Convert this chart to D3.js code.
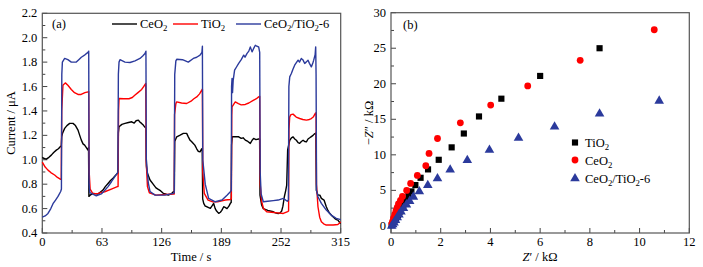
<!DOCTYPE html>
<html>
<head>
<meta charset="utf-8">
<script src="https://cdn.jsdelivr.net/npm/d3@7"></script>
<style>
  body { margin: 0; background: #fff; }
  svg { display: block; font-family: "Liberation Serif", "Times New Roman", Times, serif; }
</style>
</head>
<body>
<script>
// ---- panel (a): photocurrent vs time, [t (s), I (uA)]
const ceo2Current = [[0,1.02],[2,1.01],[4.2,1.005],[7,1.02],[9.5,1.038],[12,1.06],[14.8,1.079],[17,1.09],[19.4,1.11],[20,1.11],[20.5,1.19],[21.5,1.22],[23.6,1.257],[26,1.28],[28.9,1.298],[32.4,1.298],[35,1.28],[37.7,1.243],[39.5,1.2],[41.2,1.161],[43,1.13],[44.7,1.12],[46.5,1.1],[48.2,1.079],[48.8,1.1],[49.2,0.7],[50.5,0.71],[53.5,0.725],[58.8,0.72],[64,0.752],[66.5,0.78],[69.4,0.806],[72,0.83],[74.6,0.848],[77,0.87],[79.2,0.888],[79.8,0.89],[80.3,1.22],[81,1.27],[84,1.29],[87.3,1.298],[91,1.305],[94.4,1.311],[97,1.3],[99,1.32],[101.4,1.325],[103,1.31],[104.5,1.3],[106.6,1.284],[108,1.27],[109.5,1.257],[109.9,0.95],[110.5,0.9],[113.7,0.834],[117.2,0.798],[120,0.77],[122.5,0.757],[125,0.745],[127.7,0.725],[130,0.72],[133,0.711],[136,0.72],[138.3,0.738],[139.4,0.74],[139.8,1.15],[141.9,1.188],[145,1.2],[148.9,1.216],[152.4,1.216],[154,1.19],[155.9,1.161],[157.5,1.15],[159.4,1.134],[161,1.12],[163,1.09],[164.5,1.07],[166.5,1.065],[168.2,1.09],[168.8,1.08],[169.3,0.68],[170.4,0.643],[172,0.62],[173.9,0.615],[177.4,0.602],[179,0.62],[180.9,0.643],[182.5,0.6],[184,0.58],[186.2,0.561],[188,0.57],[189.5,0.585],[191.5,0.615],[193,0.61],[195,0.6],[197,0.62],[198.5,0.643],[199.4,0.65],[199.8,1.12],[200.5,1.188],[204,1.19],[207.3,1.188],[210,1.175],[212,1.18],[214.3,1.161],[217,1.15],[219.6,1.134],[221.5,1.16],[223.1,1.175],[225.5,1.165],[228.4,1.17],[229.4,1.17],[229.8,0.71],[231.5,0.63],[233.3,0.6],[238,0.585],[243.9,0.574],[246,0.565],[249,0.56],[251,0.565],[252.7,0.58],[254,0.62],[255.5,0.697],[257,0.75],[258,0.793],[259,1.08],[261.2,1.16],[263,1.18],[264.7,1.188],[266.5,1.17],[268.2,1.16],[270,1.14],[271.7,1.134],[273.5,1.15],[275.3,1.16],[277,1.15],[278.8,1.147],[280.5,1.17],[282.3,1.18],[284,1.19],[285.8,1.2],[287,1.21],[288.2,1.216],[288.8,1.22],[289.3,0.75],[291,0.71],[293,0.71],[294.6,0.684],[297.4,0.67],[299.8,0.615],[301.5,0.585],[303.3,0.561],[306,0.54],[308.6,0.52],[310.5,0.51],[312.1,0.506],[314.5,0.48],[315,0.48]];

const tio2Current = [[0,0.98],[3,0.94],[6,0.915],[9,0.895],[13,0.875],[16,0.855],[19.4,0.84],[20,0.84],[20.5,1.4],[21.8,1.61],[24.3,1.63],[27,1.61],[30.6,1.576],[34,1.55],[37.7,1.535],[41,1.535],[45,1.55],[48.2,1.556],[49,1.56],[49.5,0.9],[50.5,0.76],[53.5,0.72],[58.8,0.725],[65.9,0.738],[72.9,0.76],[79.2,0.78],[80,0.78],[80.5,1.4],[81,1.502],[86,1.5],[91.5,1.5],[95,1.51],[97.9,1.53],[101,1.55],[104.9,1.576],[107,1.6],[109.2,1.625],[109.6,1.0],[111,0.78],[113,0.73],[120,0.71],[130,0.715],[138.5,0.72],[139.3,0.72],[139.6,1.37],[141,1.46],[141.9,1.474],[147,1.465],[152.4,1.461],[157,1.48],[160,1.5],[163,1.515],[166,1.54],[168.3,1.57],[169,1.58],[169.4,0.9],[171,0.725],[175,0.67],[180,0.655],[185,0.655],[193.2,0.67],[198.5,0.675],[199.6,0.68],[200,1.36],[200.3,1.434],[203.7,1.474],[207,1.46],[210,1.45],[214.3,1.453],[218,1.465],[223.1,1.488],[226,1.5],[228.4,1.515],[229.5,1.52],[230,0.8],[231.5,0.66],[233.5,0.6],[236.9,0.574],[242,0.57],[248,0.565],[254.4,0.56],[259,0.575],[260,0.58],[260.4,1.25],[261.2,1.352],[262.5,1.37],[264.7,1.374],[268,1.35],[271.7,1.338],[275,1.33],[278.8,1.325],[282,1.33],[284,1.338],[286,1.35],[288.2,1.38],[289,1.385],[289.4,0.8],[291,0.615],[292.8,0.53],[294.6,0.493],[297,0.475],[299.8,0.465],[307,0.465],[312,0.47],[315,0.49]];

const mixCurrent = [[0,0.53],[3,0.54],[6,0.56],[9,0.6],[11.3,0.64],[14,0.67],[16.6,0.7],[19.4,0.74],[20.2,0.76],[20.6,1.7],[21.2,1.8],[23.6,1.83],[27,1.82],[30.6,1.8],[35.9,1.8],[38.5,1.82],[41.2,1.84],[45,1.86],[48.2,1.88],[49,1.89],[49.4,0.8],[50.2,0.73],[51.8,0.725],[57,0.705],[62.3,0.72],[66,0.75],[69.4,0.78],[73,0.82],[76.4,0.86],[79.2,0.89],[79.8,0.9],[80.3,1.7],[81,1.8],[82,1.82],[87.3,1.8],[92.6,1.797],[97.9,1.81],[103.1,1.83],[106,1.85],[108.4,1.87],[109.4,1.89],[109.8,1.0],[111.9,0.81],[113.7,0.74],[119,0.71],[129.5,0.71],[138.3,0.725],[139.3,0.73],[139.8,1.7],[141,1.81],[141.9,1.823],[148,1.82],[154.1,1.8],[159.4,1.83],[163,1.84],[166.5,1.857],[168.5,1.88],[169,1.93],[169.4,1.0],[172,0.8],[175.6,0.684],[182.6,0.656],[189.7,0.67],[195,0.71],[198.5,0.738],[199.5,0.75],[199.8,1.6],[200.3,1.666],[200.8,1.55],[201.5,1.65],[203,1.734],[205,1.76],[207.3,1.79],[210,1.82],[212.6,1.857],[214,1.84],[216,1.87],[218,1.89],[219.6,1.925],[221.4,1.884],[223,1.91],[224.9,1.938],[226.5,1.93],[228.4,1.925],[229.5,1.88],[230,0.9],[231,0.72],[233.3,0.656],[238,0.66],[243.9,0.665],[249,0.67],[254.4,0.684],[258.6,0.66],[259.8,0.67],[260.3,1.6],[261.2,1.679],[262.9,1.707],[264.5,1.74],[266.4,1.775],[270,1.816],[271.5,1.8],[273.4,1.83],[275,1.82],[277,1.789],[278.5,1.8],[280.5,1.816],[282,1.79],[284,1.761],[285.5,1.79],[286.5,1.816],[288,1.86],[288.6,1.925],[289,1.7],[289.5,0.75],[291,0.697],[294.6,0.643],[299.8,0.588],[305,0.547],[310.3,0.52],[315,0.51]];

const timeTicks = [0, 63, 126, 189, 252, 315];
const currentTicks = [0.4, 0.6, 0.8, 1.0, 1.2, 1.4, 1.6, 1.8, 2.0, 2.2];

// ---- panel (b): Nyquist plots, [Z' (kOhm), -Z'' (kOhm)]
const tio2Nyquist = [[0.03,0.1],[0.07,0.3],[0.13,0.6],[0.2,1.0],[0.28,1.5],[0.35,2.0],[0.42,2.5],[0.5,3.0],[0.6,3.6],[0.7,4.2],[0.82,4.85],[0.98,5.74],[1.19,6.77],[1.49,7.95],[1.92,9.3],[2.44,11.05],[2.93,13.0],[3.54,15.4],[4.44,17.9],[6.0,21.1],[8.39,25.0]];
const ceo2Nyquist = [[0.03,0.25],[0.06,0.6],[0.1,1.1],[0.15,1.6],[0.2,2.1],[0.25,2.6],[0.3,3.1],[0.38,3.6],[0.46,4.15],[0.63,4.99],[0.79,5.98],[1.06,7.1],[1.4,8.46],[1.53,10.2],[1.87,12.3],[2.79,14.5],[4.01,17.0],[5.5,19.7],[7.61,23.3],[10.59,27.6]];
const mixNyquist = [[0.03,0.1],[0.07,0.3],[0.12,0.55],[0.18,0.9],[0.25,1.3],[0.32,1.7],[0.4,2.1],[0.5,2.6],[0.62,3.1],[0.75,3.6],[0.9,4.19],[1.14,4.94],[1.48,5.84],[1.87,6.77],[2.38,8.0],[3.07,9.36],[3.96,10.8],[5.13,12.47],[6.58,14.06],[8.39,15.9],[10.79,17.7]];

const zReTicks = [0, 2, 4, 6, 8, 10, 12];
const zImTicks = [0, 5, 10, 15, 20, 25, 30];

const BLACK = "#000", RED = "#f00", BLUE = "#2b3a9c";
const FS = 12.5;

const svg = d3.select("body").append("svg")
  .attr("width", 703).attr("height", 267);

// text with "_x" -> subscript x
function richText(g, str, x, y, anchor) {
  const t = g.append("text").attr("x", x).attr("y", y)
    .attr("font-size", FS).attr("fill", "#000")
    .attr("text-anchor", anchor || "start");
  const parts = str.split(/(_.)/).filter(s => s.length);
  let sub = false;
  parts.forEach(p => {
    if (p[0] === "_") {
      t.append("tspan").attr("dy", 3).attr("font-size", FS * 0.7).text(p[1]);
      sub = true;
    } else {
      const s = t.append("tspan").text(p);
      if (sub) { s.attr("dy", -3); sub = false; }
    }
  });
  return t;
}

function frame(g, x, y, majorX, minorX, majorY, minorY, fmtY) {
  const [x0, x1] = x.range(), [y0, y1] = y.range();
  const ax = g.append("g").attr("stroke", "#444").attr("stroke-width", 1);
  minorX.forEach(v => ax.append("line").attr("x1", x(v)).attr("x2", x(v)).attr("y1", y0).attr("y2", y0 - 3));
  majorX.forEach(v => ax.append("line").attr("x1", x(v)).attr("x2", x(v)).attr("y1", y0).attr("y2", y0 - 5));
  minorY.forEach(v => ax.append("line").attr("y1", y(v)).attr("y2", y(v)).attr("x1", x0).attr("x2", x0 + 3));
  majorY.forEach(v => ax.append("line").attr("y1", y(v)).attr("y2", y(v)).attr("x1", x0).attr("x2", x0 + 5));
  g.append("rect").attr("x", x0).attr("y", y1).attr("width", x1 - x0).attr("height", y0 - y1)
    .attr("fill", "none").attr("stroke", "#555").attr("stroke-width", 1.2);
  g.selectAll(".xl").data(majorX).join("text")
    .attr("x", d => x(d)).attr("y", y0 + 13).attr("text-anchor", "middle")
    .attr("font-size", FS).text(d => d);
  g.selectAll(".yl").data(majorY).join("text")
    .attr("x", x0 - 5).attr("y", d => y(d) + 4).attr("text-anchor", "end")
    .attr("font-size", FS).text(fmtY);
}

// ---------- panel (a)
{
  const x = d3.scaleLinear().domain([0, 315]).range([42.3, 340.7]);
  const y = d3.scaleLinear().domain([0.4, 2.2]).range([233, 13.3]);
  const g = svg.append("g");
  const minorX = d3.range(31.5, 315, 63);
  const minorY = d3.range(0.5, 2.2, 0.2);
  frame(g, x, y, timeTicks, minorX, currentTicks, minorY, d => d.toFixed(1));

  const line = d3.line().x(d => x(d[0])).y(d => y(d[1]));
  [[ceo2Current, BLACK], [tio2Current, RED], [mixCurrent, BLUE]].forEach(([data, c]) => {
    g.append("path").datum(data).attr("d", line)
      .attr("fill", "none").attr("stroke", c).attr("stroke-width", 1.4)
      .attr("stroke-linejoin", "round");
  });

  g.append("text").attr("x", 52).attr("y", 28).attr("font-size", FS).text("(a)");
  const leg = [["CeO_2", BLACK, 112], ["TiO_2", RED, 173], ["CeO_2/TiO_2-6", BLUE, 236]];
  leg.forEach(([lab, c, lx]) => {
    g.append("line").attr("x1", lx).attr("x2", lx + 25).attr("y1", 24).attr("y2", 24)
      .attr("stroke", c).attr("stroke-width", 1.4);
    richText(g, lab, lx + 28, 28);
  });

  g.append("text").attr("x", 191).attr("y", 261).attr("text-anchor", "middle")
    .attr("font-size", FS).text("Time / s");
  g.append("text").attr("transform", "translate(15,123) rotate(-90)")
    .attr("text-anchor", "middle").attr("font-size", FS).text("Current / μA");
}

// ---------- panel (b)
{
  const x = d3.scaleLinear().domain([0, 12]).range([391, 689.3]);
  const y = d3.scaleLinear().domain([-1, 30]).range([233, 12.7]);
  const g = svg.append("g");
  const minorX = d3.range(1, 12, 2);
  const minorY = d3.range(2.5, 30, 5);
  frame(g, x, y, zReTicks, minorX, zImTicks, minorY, d => d);

  const sq = d3.symbol(d3.symbolSquare, 38)();
  const tri = d3.symbol(d3.symbolTriangle, 40)();
  g.append("g").selectAll("path").data(tio2Nyquist).join("path")
    .attr("d", sq).attr("fill", BLACK)
    .attr("transform", d => `translate(${x(d[0])},${y(d[1])})`);
  g.append("g").selectAll("circle").data(ceo2Nyquist).join("circle")
    .attr("r", 3.4).attr("fill", RED)
    .attr("cx", d => x(d[0])).attr("cy", d => y(d[1]));
  g.append("g").selectAll("path").data(mixNyquist).join("path")
    .attr("d", tri).attr("fill", BLUE)
    .attr("transform", d => `translate(${x(d[0])},${y(d[1]) + 0.8})`);

  g.append("text").attr("x", 403).attr("y", 29).attr("font-size", FS).text("(b)");
  g.append("path").attr("d", sq).attr("fill", BLACK).attr("transform", "translate(575,142.5)");
  richText(g, "TiO_2", 585, 147);
  g.append("circle").attr("r", 3.4).attr("fill", RED).attr("cx", 575).attr("cy", 160);
  richText(g, "CeO_2", 585, 165);
  g.append("path").attr("d", tri).attr("fill", BLUE).attr("transform", "translate(575,178.5)");
  richText(g, "CeO_2/TiO_2-6", 585, 183);

  const xl = g.append("text").attr("x", 540).attr("y", 261).attr("text-anchor", "middle").attr("font-size", FS);
  xl.append("tspan").attr("font-style", "italic").text("Z");
  xl.append("tspan").text("′ / kΩ");
  const yl = g.append("text").attr("transform", "translate(373,123) rotate(-90)")
    .attr("text-anchor", "middle").attr("font-size", FS);
  yl.append("tspan").text("−");
  yl.append("tspan").attr("font-style", "italic").text("Z");
  yl.append("tspan").text("″ / kΩ");
}
</script>
</body>
</html>
